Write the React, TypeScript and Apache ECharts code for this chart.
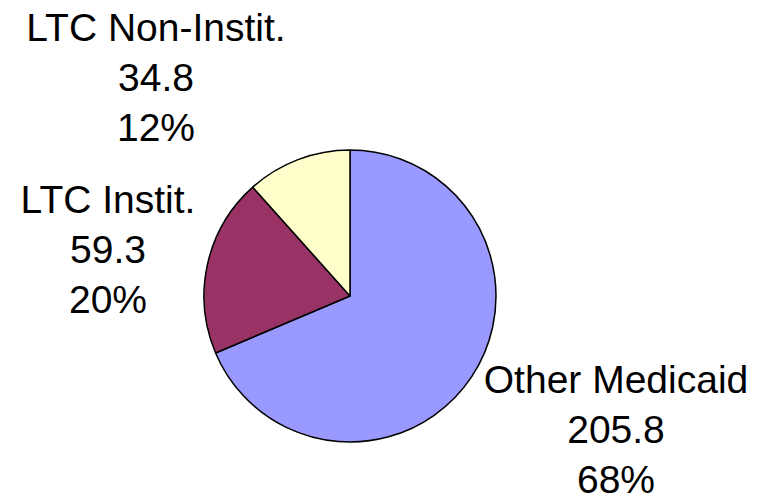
import React, { useEffect, useRef } from "react";
import * as echarts from "echarts";

const categories = ["Other Medicaid", "LTC Instit.", "LTC Non-Instit."];
const values = [205.8, 59.3, 34.8];
const shownPercents = [68, 20, 12];
const colors = ["#9999FF", "#993366", "#FFFFCC"];
// label centres (px) for each slice
const labelCenters = [
  [616, 429],
  [108, 249],
  [156, 77],
];

export default function App() {
  const ref = useRef<HTMLDivElement>(null);
  useEffect(() => {
    document.body.style.margin = "0";
    const chart = echarts.init(ref.current!, null, { renderer: "svg" });
    chart.setOption({
      animation: false,
      backgroundColor: "#ffffff",
      series: [
        {
          type: "pie",
          center: [350, 296],
          radius: 146,
          startAngle: 90,
          clockwise: true,
          data: categories.map((name, i) => ({
            name,
            value: values[i],
            itemStyle: { color: colors[i] },
          })),
          itemStyle: { borderColor: "#000000", borderWidth: 1.5 },
          label: {
            show: true,
            position: "outside",
            formatter: (p: any) =>
              `${p.name}\n${values[p.dataIndex].toFixed(1)}\n${shownPercents[p.dataIndex]}%`,
            fontFamily: "Liberation Sans, Arial, sans-serif",
            fontSize: 39,
            lineHeight: 50,
            color: "#000000",
            align: "center",
            overflow: "none",
            width: 400,
          },
          labelLine: { show: false },
          labelLayout: (params: any) => {
            const c = labelCenters[params.dataIndex];
            return {
              x: c[0],
              y: c[1],
              align: "center",
              verticalAlign: "middle",
              width: 400,
            };
          },
          emphasis: { disabled: true },
        },
      ],
    });
    return () => chart.dispose();
  }, []);
  return <div ref={ref} style={{ width: 758, height: 496 }} />;
}
